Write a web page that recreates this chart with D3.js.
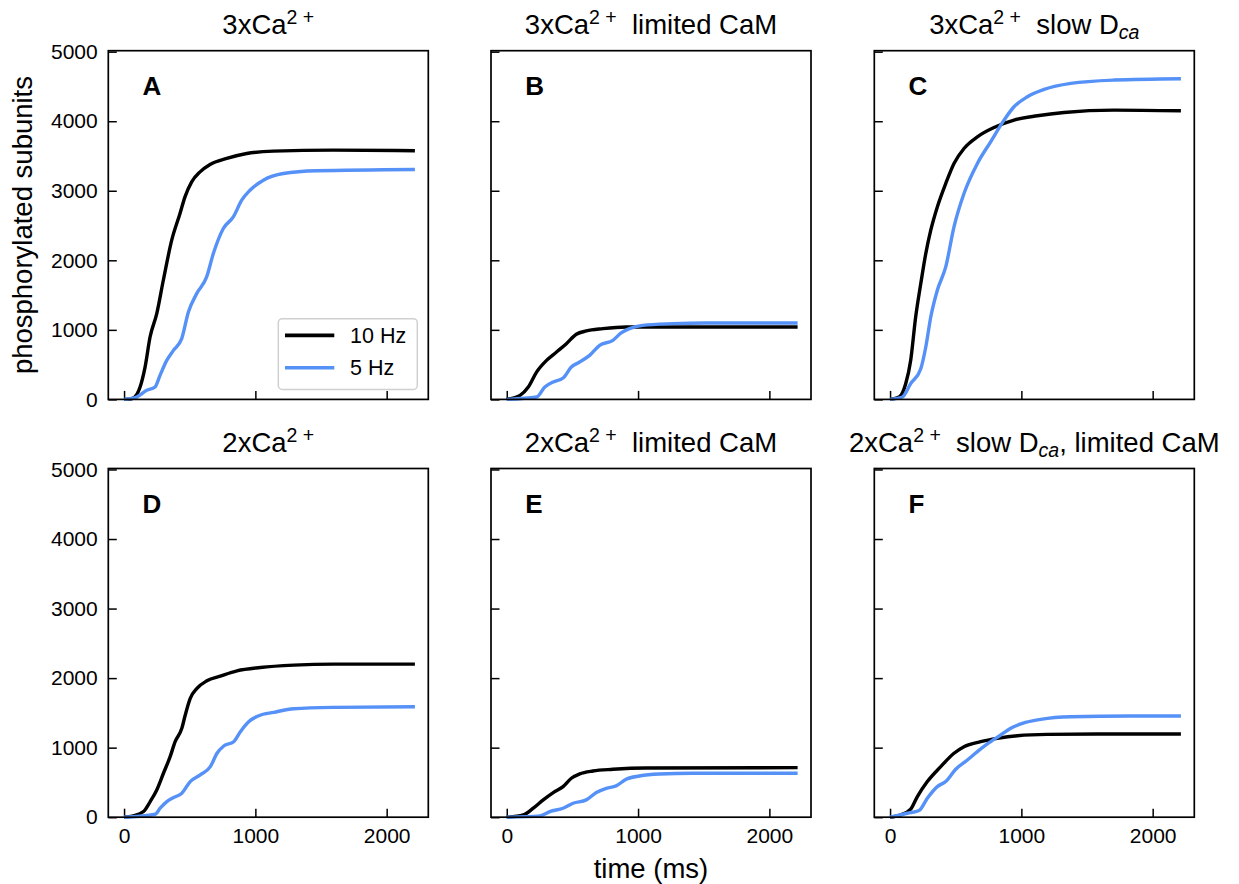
<!DOCTYPE html>
<html>
<head>
<meta charset="utf-8">
<script src="https://cdn.jsdelivr.net/npm/d3@7"></script>
<style>
  body { margin: 0; background: #fff; }
  svg text { font-family: "Liberation Sans", Arial, sans-serif; fill: #000; }
  .tick line { stroke: #000; stroke-width: 1.5px; }
  .frame { fill: none; stroke: #000; stroke-width: 1.7px; }
  .curve { fill: none; stroke-width: 3.4px; stroke-linejoin: round; stroke-linecap: butt; }
</style>
</head>
<body>
<svg id="chart" width="1239" height="884"></svg>
<script>
// ticks and series names
var xTicks = [0, 1000, 2000];
var yTicks = [0, 1000, 2000, 3000, 4000, 5000];
var seriesNames = ["10 Hz", "5 Hz"];
var letters = ["A", "B", "C", "D", "E", "F"];

// [time (ms), phosphorylated subunits]
var a10 = [[0,0],[58,10],[100,80],[122,178],[160,465],[198,897],[249,1233],[299,1713],[363,2289],[426,2672],[464,2912],[515,3128],[579,3272],[655,3378],[782,3464],[934,3536],[1137,3570],[1594,3584],[2215,3575]];
var a5  = [[0,0],[96,34],[173,130],[236,178],[274,345],[325,561],[376,705],[439,873],[490,1257],[553,1521],[629,1761],[680,2097],[756,2457],[832,2624],[896,2864],[959,3008],[1061,3152],[1213,3248],[1467,3287],[2215,3306]];
var b10 = [[0,0],[101,58],[164,178],[227,393],[303,561],[379,681],[454,801],[530,936],[606,984],[732,1017],[909,1041],[1263,1041],[2215,1041]];
var b5  = [[0,0],[227,34],[290,178],[354,250],[429,307],[492,465],[555,537],[631,633],[707,777],[808,849],[871,955],[934,1017],[1035,1065],[1263,1089],[1515,1099],[2215,1099]];
var c10 = [[0,0],[69,34],[119,226],[157,561],[195,1185],[234,1665],[272,2097],[310,2433],[360,2768],[424,3104],[487,3392],[563,3608],[665,3776],[792,3910],[944,4016],[1122,4078],[1325,4126],[1706,4160],[2215,4150]];
var c5  = [[0,0],[94,34],[157,226],[234,441],[272,753],[310,1185],[360,1569],[424,1905],[487,2481],[563,2960],[665,3392],[766,3704],[868,4016],[944,4208],[1046,4352],[1173,4457],[1376,4544],[1706,4592],[2215,4611]];
var d10 = [[0,0],[71,19],[148,81],[199,225],[249,392],[300,632],[351,871],[389,1086],[440,1278],[466,1469],[504,1708],[555,1852],[631,1962],[733,2029],[860,2105],[1038,2153],[1293,2187],[1598,2201],[2215,2201]];
var d5  = [[0,0],[237,43],[275,129],[326,225],[377,282],[440,345],[504,512],[580,608],[657,727],[708,919],[759,1024],[835,1086],[886,1230],[949,1373],[1026,1459],[1140,1507],[1293,1560],[1598,1579],[2215,1589]];
var e10 = [[0,0],[126,33],[202,129],[278,249],[354,354],[429,440],[492,560],[555,622],[656,665],[808,689],[1061,708],[2215,713]];
var e5  = [[0,0],[253,19],[328,81],[429,129],[505,201],[606,249],[682,354],[758,416],[833,450],[909,546],[1010,593],[1162,622],[1414,632],[2215,632]];
var f10 = [[0,0],[81,33],[157,115],[208,297],[284,512],[386,727],[487,919],[563,1014],[690,1086],[817,1134],[970,1172],[1198,1191],[1579,1196],[2215,1196]];
var f5  = [[0,0],[132,57],[221,96],[284,273],[360,440],[424,512],[500,689],[589,823],[665,943],[741,1053],[843,1182],[919,1278],[1008,1349],[1147,1407],[1376,1445],[1832,1455],[2215,1455]];

// titles: plain text, "sup" = superscript, "sub" = italic subscript
var titles = [
  [["3xCa"], ["2 +", "sup"]],
  [["3xCa"], ["2 +", "sup"], ["  limited CaM"]],
  [["3xCa"], ["2 +", "sup"], ["  slow D"], ["ca", "sub"]],
  [["2xCa"], ["2 +", "sup"]],
  [["2xCa"], ["2 +", "sup"], ["  limited CaM"]],
  [["2xCa"], ["2 +", "sup"], ["  slow D"], ["ca", "sub"], [", limited CaM"]]
];

var series = [[a10, a5], [b10, b5], [c10, c5], [d10, d5], [e10, e5], [f10, f5]];
var colors = ["#000000", "#5591f6"];

var svg = d3.select("#chart");
var lefts = [108.3, 491, 874.3], tops = [50.7, 468.5];
var pw = 320, ph = 348.7;

var line = d3.line().curve(d3.curveMonotoneX);

series.forEach(function(pair, i) {
    var col = i % 3, row = Math.floor(i / 3);
    var left = lefts[col], top = tops[row];
    var x = d3.scaleLinear().domain([-120, 2317]).range([left, left + pw]);
    var y = d3.scaleLinear().domain([0, 5014]).range([top + ph, top]);
    line.x(function(d) { return x(d[0]); }).y(function(d) { return y(d[1]); });

    var g = svg.append("g");

    var xAxis = d3.axisBottom(x).tickValues(xTicks).tickSizeInner(-8.5).tickSizeOuter(0)
        .tickPadding(10.5).tickFormat(row === 0 ? "" : d3.format("d"));
    g.append("g").attr("transform", "translate(0," + (top + ph) + ")").call(xAxis)
        .call(function(a) { a.select(".domain").remove(); });

    var yAxis = d3.axisLeft(y).tickValues(yTicks).tickSizeInner(-8.5).tickSizeOuter(0)
        .tickPadding(10.6).tickFormat(col !== 0 ? "" : d3.format("d"));
    g.append("g").attr("transform", "translate(" + left + ",0)").call(yAxis)
        .call(function(a) { a.select(".domain").remove(); });
    g.selectAll(".tick text").attr("fill", "#000").style("font-size", "21px")
        .style("font-family", "'Liberation Sans', Arial, sans-serif");

    pair.forEach(function(data, k) {
        g.append("path").attr("class", "curve").attr("stroke", colors[k]).attr("d", line(data));
    });

    g.append("rect").attr("class", "frame")
        .attr("x", left).attr("y", top).attr("width", pw).attr("height", ph);

    // panel letter
    g.append("text").attr("x", x(140)).attr("y", y(4370))
        .style("font-size", "26px").style("font-weight", "bold").text(letters[i]);

    // title
    var t = g.append("text").attr("x", left + pw / 2).attr("y", top - 17)
        .attr("text-anchor", "middle").style("font-size", "27.5px").style("white-space", "pre");
    var shift = 0;
    titles[i].forEach(function(seg) {
        var target = seg[1] === "sup" ? -10 : seg[1] === "sub" ? 5 : 0;
        var ts = t.append("tspan").attr("dy", target - shift).text(seg[0]);
        if (seg[1]) ts.style("font-size", "19.5px");
        if (seg[1] === "sub") ts.style("font-style", "italic");
        shift = target;
    });

    // legend in first panel
    if (i === 0) {
        var lg = g.append("g").attr("transform", "translate(" + (left + pw - 150) + "," + (top + ph - 80.7) + ")");
        lg.append("rect").attr("x", 0).attr("y", 0).attr("width", 139).attr("height", 70.7)
            .attr("rx", 4).attr("fill", "#fff").attr("fill-opacity", 0.8)
            .attr("stroke", "#d0d0d0").attr("stroke-width", 1.5);
        seriesNames.forEach(function(name, k) {
            var yy = 16.7 + k * 32.3;
            lg.append("line").attr("x1", 6.7).attr("x2", 56).attr("y1", yy).attr("y2", yy)
                .attr("stroke", colors[k]).attr("stroke-width", 3.6);
            lg.append("text").attr("x", 71.7).attr("y", yy + 7.7).style("font-size", "21.5px").text(name);
        });
    }
});

// shared axis labels
svg.append("text").attr("x", (lefts[1] + lefts[1] + pw) / 2).attr("y", 878)
    .attr("text-anchor", "middle").style("font-size", "27.5px").text("time (ms)");
svg.append("text").attr("transform", "translate(32," + (tops[0] + ph / 2) + ") rotate(-90)")
    .attr("text-anchor", "middle").style("font-size", "27.5px").text("phosphorylated subunits");
</script>
</body>
</html>
